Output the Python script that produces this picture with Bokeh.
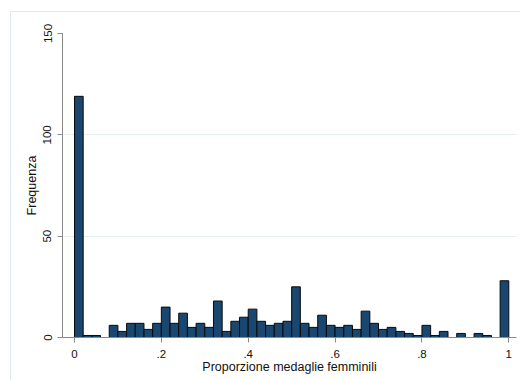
import numpy as np
from bokeh.plotting import figure
from bokeh.models import FixedTicker, InlineStyleSheet
from bokeh.embed import file_html
from bokeh.resources import INLINE

# Histogram data: bin width 0.02 from 0 to 1 (50 bins)
bin_start = 0.0
bin_width = 0.02
counts = [119, 1, 1, 0, 6, 3, 7, 7, 4, 7,
          15, 7, 12, 5, 7, 5, 18, 3, 8, 10,
          14, 8, 6, 7, 8, 25, 7, 5, 11, 6,
          5, 6, 4, 13, 7, 4, 5, 3, 2, 1,
          6, 1, 3, 0, 2, 0, 2, 1, 0, 28]
x_ticks = [0, 0.2, 0.4, 0.6, 0.8, 1.0]
x_tick_labels = ["0", ".2", ".4", ".6", ".8", "1"]
y_ticks = [0, 50, 100, 150]
x_title = "Proporzione medaglie femminili"
y_title = "Frequenza"

counts_arr = np.array(counts, dtype=float)
lefts = bin_start + bin_width * np.arange(len(counts))
rights = lefts + bin_width
mask = counts_arr > 0

FONT = "Liberation Sans"
FRAME = "#e0e8eb"

p = figure(width=520, height=380, output_backend="svg", toolbar_location=None,
           x_range=(-0.0276, 1.0177), y_range=(0, 150),
           min_border_left=62, min_border_right=4, min_border_top=33, min_border_bottom=43)
# transparent canvas border so that a CSS background can show the faint outer frame
p.border_fill_color = None
p.background_fill_color = "#ffffff"
p.outline_line_color = None
bg = (f"linear-gradient({FRAME},{FRAME}) 10px 11px / calc(100% - 10px) 1px no-repeat, "
      f"linear-gradient({FRAME},{FRAME}) 10px 11px / 1px calc(100% - 11px) no-repeat, #ffffff")
p.styles = {"background": bg}
p.stylesheets = [InlineStyleSheet(css=f":host {{ background: {bg}; }}")]

p.quad(left=lefts[mask], right=rights[mask], bottom=0, top=counts_arr[mask],
       fill_color="#1a476f", line_color="#0a0a0a", line_width=1)

p.xgrid.grid_line_color = None
p.ygrid.grid_line_color = "#e6eef0"
p.ygrid.ticker = FixedTicker(ticks=y_ticks)

p.xaxis.ticker = FixedTicker(ticks=x_ticks)
p.xaxis.major_label_overrides = {t: l for t, l in zip(x_ticks, x_tick_labels)}
p.yaxis.ticker = FixedTicker(ticks=y_ticks)
p.yaxis.major_label_orientation = "vertical"

for ax in (p.xaxis[0], p.yaxis[0]):
    ax.axis_line_color = "#8a8a8a"
    ax.major_tick_line_color = "#8a8a8a"
    ax.major_tick_out = 5
    ax.major_tick_in = 0
    ax.minor_tick_line_color = None
    ax.major_label_text_font = FONT
    ax.major_label_text_font_size = "11.5px"
    ax.major_label_text_color = "#111111"
    ax.axis_label_text_font = FONT
    ax.axis_label_text_font_size = "12.5px"
    ax.axis_label_text_font_style = "normal"
    ax.axis_label_text_color = "#111111"

p.xaxis.axis_label = x_title
p.yaxis.axis_label = y_title
p.xaxis.major_label_standoff = 7
p.xaxis.axis_label_standoff = -1
p.yaxis.major_label_standoff = 6
p.yaxis.axis_label_standoff = 2

open("out.html", "w").write(file_html(p, INLINE))
